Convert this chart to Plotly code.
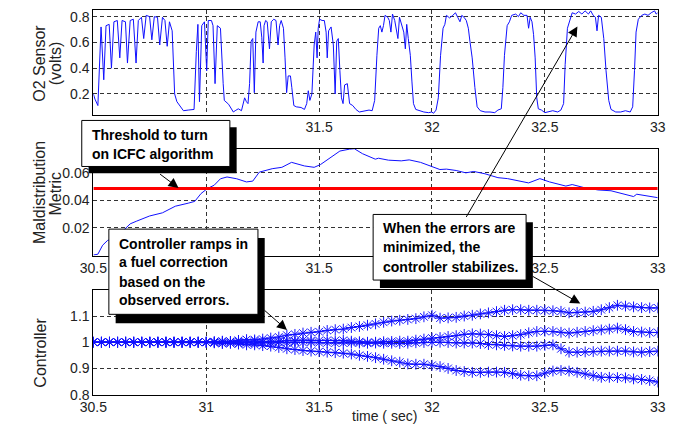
import plotly.graph_objects as go
import numpy as np

# ---------------- data ----------------
o2_t = [30.500, 30.507, 30.520, 30.527, 30.534, 30.546, 30.556, 30.570, 30.580, 30.591,
        30.606, 30.617, 30.627, 30.642, 30.651, 30.663, 30.677, 30.689, 30.699, 30.713,
        30.723, 30.734, 30.749, 30.759, 30.770, 30.784, 30.794, 30.806, 30.817, 30.827,
        30.837, 30.849, 30.860, 30.870, 30.885, 30.899, 30.920, 30.946, 30.956, 30.963,
        30.970, 30.980, 30.992, 31.002, 31.009, 31.023, 31.030, 31.039, 31.049, 31.063,
        31.075, 31.080, 31.099, 31.120,
        31.128, 31.142, 31.156, 31.170, 31.178, 31.185, 31.192, 31.199, 31.206, 31.213,
        31.220, 31.230, 31.239, 31.246, 31.252, 31.256, 31.263, 31.270, 31.280, 31.288,
        31.299, 31.309, 31.318, 31.325, 31.332, 31.342, 31.349, 31.356, 31.363, 31.373,
        31.379, 31.388, 31.399, 31.420, 31.435, 31.445, 31.452, 31.459, 31.468, 31.478,
        31.485, 31.491, 31.496, 31.502, 31.513, 31.523, 31.531, 31.536, 31.542, 31.553,
        31.563, 31.571, 31.578, 31.585, 31.592, 31.599, 31.606, 31.613, 31.625, 31.635,
        31.649, 31.663, 31.678, 31.699, 31.721, 31.735,
        31.746, 31.756, 31.764, 31.771, 31.778, 31.785, 31.792, 31.804, 31.811, 31.818,
        31.825, 31.835, 31.842, 31.849, 31.856, 31.867, 31.875, 31.882, 31.888, 31.895,
        31.904, 31.911, 31.918, 31.928, 31.942, 31.964, 31.985, 31.999, 32.007, 32.018,
        32.028, 32.038, 32.049, 32.057, 32.064, 32.078, 32.092, 32.104, 32.114, 32.124,
        32.132, 32.142, 32.152, 32.161, 32.168, 32.178, 32.190, 32.200, 32.214, 32.235,
        32.257, 32.278, 32.292, 32.307, 32.314, 32.321, 32.333, 32.343, 32.353,
        32.371, 32.383, 32.393, 32.407, 32.421, 32.428, 32.435, 32.443, 32.450, 32.457,
        32.464, 32.471, 32.485, 32.500, 32.514, 32.535, 32.557, 32.571, 32.583, 32.590,
        32.600, 32.611, 32.621, 32.636, 32.650, 32.664, 32.678, 32.693, 32.703, 32.714,
        32.724, 32.731, 32.738, 32.750, 32.761, 32.771, 32.783, 32.793, 32.814, 32.836,
        32.857, 32.878, 32.889, 32.897, 32.904, 32.914, 32.929, 32.943, 32.957, 32.971,
        32.986, 32.993, 33.000]
o2_v = [0.20, 0.16, 0.11, 0.48, 0.72, 0.31, 0.73, 0.74, 0.40, 0.76,
        0.77, 0.48, 0.77, 0.76, 0.44, 0.77, 0.78, 0.44, 0.77, 0.795,
        0.63, 0.81, 0.80, 0.62, 0.80, 0.795, 0.58, 0.795, 0.77, 0.57,
        0.76, 0.69, 0.20, 0.14, 0.10, 0.07, 0.075, 0.08, 0.53, 0.74,
        0.14, 0.73, 0.76, 0.38, 0.77, 0.77, 0.73, 0.28, 0.73, 0.71,
        0.28, 0.15, 0.12, 0.06,
        0.07, 0.085, 0.07, 0.17, 0.14, 0.125, 0.28, 0.61, 0.63, 0.21,
        0.68, 0.76, 0.76, 0.64, 0.44, 0.73, 0.77, 0.76, 0.55, 0.76,
        0.78, 0.77, 0.58, 0.73, 0.77, 0.71, 0.48, 0.21, 0.34, 0.34,
        0.25, 0.11, 0.10, 0.095, 0.08, 0.125, 0.225, 0.15, 0.20, 0.58,
        0.68, 0.48, 0.71, 0.78, 0.77, 0.77, 0.68, 0.48, 0.69, 0.72,
        0.58, 0.20, 0.61, 0.63, 0.38, 0.17, 0.125, 0.27, 0.28, 0.125,
        0.11, 0.08, 0.06, 0.07, 0.075, 0.07,
        0.15, 0.50, 0.71, 0.73, 0.68, 0.73, 0.81, 0.795, 0.77, 0.68,
        0.82, 0.77, 0.69, 0.63, 0.795, 0.73, 0.68, 0.55, 0.74, 0.63,
        0.50, 0.30, 0.125, 0.08, 0.07, 0.06, 0.055, 0.06, 0.05, 0.075,
        0.17, 0.50, 0.71, 0.74, 0.81, 0.79, 0.81, 0.83, 0.795, 0.76,
        0.81, 0.795, 0.77, 0.71, 0.61, 0.48, 0.25, 0.10, 0.07, 0.06,
        0.06, 0.055, 0.075, 0.085, 0.25, 0.50, 0.73, 0.76, 0.81,
        0.82, 0.80, 0.83, 0.81, 0.81, 0.71, 0.795, 0.76, 0.66, 0.48,
        0.17, 0.085, 0.075, 0.055, 0.06, 0.07, 0.06, 0.075, 0.125, 0.43,
        0.71, 0.77, 0.83, 0.82, 0.84, 0.82, 0.845, 0.82, 0.845, 0.81,
        0.795, 0.69, 0.81, 0.795, 0.63, 0.38, 0.15, 0.08, 0.06, 0.06,
        0.07, 0.06, 0.10, 0.38, 0.68, 0.78, 0.81, 0.82, 0.81, 0.83,
        0.845, 0.82, 0.83]

md_t = [30.500, 30.520, 30.541, 30.563, 30.600, 30.634, 30.663, 30.692, 30.749, 30.806,
        30.863, 30.920, 30.949, 30.977, 31.006, 31.035, 31.063, 31.092, 31.135, 31.178,
        31.206, 31.235, 31.263, 31.292, 31.335, 31.378, 31.435, 31.478, 31.506, 31.549,
        31.592, 31.635, 31.656, 31.692, 31.749, 31.763, 31.807, 31.864, 31.899, 31.949,
        31.999, 32.035, 32.064, 32.107, 32.150, 32.185, 32.235, 32.292, 32.335, 32.378,
        32.428, 32.478, 32.521, 32.593, 32.621, 32.671, 32.735, 32.793, 32.850, 32.893,
        32.907, 33.000]
md_v = [0.0004, 0.001, 0.0075, 0.011, 0.013, 0.018, 0.023, 0.025, 0.0287, 0.031,
        0.0358, 0.038, 0.0393, 0.045, 0.0487, 0.051, 0.0557, 0.057, 0.0557, 0.0534,
        0.054, 0.0605, 0.0617, 0.063, 0.064, 0.0676, 0.065, 0.064, 0.066, 0.0711,
        0.0758, 0.0772, 0.0775, 0.0739, 0.0699, 0.0706, 0.0692, 0.0687, 0.0694, 0.0676,
        0.0645, 0.0624, 0.0627, 0.0617, 0.060, 0.061, 0.0593, 0.0565, 0.0558, 0.0546,
        0.0527, 0.0558, 0.0534, 0.0504, 0.0515, 0.0494, 0.0476, 0.047, 0.0445, 0.0428,
        0.0445, 0.042]
threshold = 0.0487

ctrl_t = np.linspace(30.5, 33.0, 71)
ctrl_a = [1.0, 1.0, 1.0, 1.0, 1.0, 1.0, 1.0, 1.0, 1.0, 1.0, 1.0, 1.0, 1.0, 1.0, 1.0,
          1.002, 1.004, 1.003, 1.007, 1.01, 1.009, 1.012, 1.016, 1.02, 1.027,
          1.03, 1.035, 1.038, 1.04, 1.045, 1.048, 1.05, 1.056, 1.06, 1.065,
          1.07, 1.076, 1.081, 1.084, 1.087, 1.09, 1.097, 1.103, 1.092, 1.093,
          1.095, 1.1, 1.103, 1.108, 1.112, 1.117, 1.122, 1.124, 1.124, 1.122,
          1.122, 1.122, 1.12, 1.118, 1.112, 1.114, 1.115, 1.118, 1.124, 1.132,
          1.141, 1.138, 1.135, 1.132, 1.131, 1.131]
ctrl_b = [1.0, 1.0, 1.0, 1.0, 1.0, 1.0, 1.0, 1.0, 1.0, 1.0, 1.0, 1.0, 1.0, 1.0, 1.0,
          0.998, 1.003, 0.997, 1.002, 1.0, 1.005, 1.001, 1.004, 1.003, 1.006,
          1.005, 1.008, 1.006, 1.006, 1.007, 1.006, 1.007, 1.004, 1.002, 1.0,
          1.0, 1.002, 1.003, 1.004, 1.004, 1.008, 1.012, 1.016, 1.018, 1.022,
          1.025, 1.03, 1.032, 1.031, 1.029, 1.025, 1.022, 1.025, 1.029, 1.036,
          1.041, 1.042, 1.041, 1.038, 1.035, 1.038, 1.041, 1.044, 1.047, 1.05,
          1.054, 1.048, 1.041, 1.039, 1.037, 1.037]
ctrl_c = [1.0, 1.0, 1.0, 1.0, 1.0, 1.0, 1.0, 1.0, 1.0, 1.0, 1.0, 1.0, 1.0, 1.0, 1.0,
          1.001, 0.997, 1.002, 0.995, 0.998, 0.996, 0.999, 0.997, 1.0, 0.998,
          1.0, 0.999, 1.0, 0.998, 0.998, 0.997, 0.997, 0.998, 0.997, 0.996,
          0.997, 0.996, 0.996, 0.995, 0.996, 0.998, 0.999, 1.0, 1.0, 0.999,
          0.997, 0.997, 0.997, 0.995, 0.991, 0.99, 0.988, 0.986, 0.985, 0.985,
          0.985, 0.988, 0.99, 0.975, 0.962, 0.962, 0.963, 0.964, 0.966, 0.966,
          0.966, 0.966, 0.963, 0.962, 0.964, 0.966]
ctrl_d = [1.0, 1.0, 1.0, 1.0, 1.0, 1.0, 1.0, 1.0, 1.0, 1.0, 1.0, 1.0, 1.0, 1.0, 1.0,
          0.998, 0.995, 0.996, 0.993, 0.99, 0.99, 0.987, 0.985, 0.98, 0.975,
          0.972, 0.968, 0.966, 0.964, 0.962, 0.96, 0.958, 0.955, 0.95, 0.946,
          0.941, 0.935, 0.929, 0.924, 0.917, 0.916, 0.916, 0.912, 0.907, 0.9,
          0.892, 0.888, 0.885, 0.885, 0.886, 0.886, 0.885, 0.88, 0.874, 0.872,
          0.872, 0.882, 0.89, 0.892, 0.89, 0.885, 0.879, 0.872, 0.866, 0.866,
          0.865, 0.864, 0.86, 0.858, 0.854, 0.848]

x_ticks = [30.5, 31, 31.5, 32, 32.5, 33]
x_ticktext_top = ["", "", "31.5", "32", "32.5", "33"]          # 30.5 / 31 hidden by callout
x_ticktext_mid = ["30.5", "", "31.5", "", "32.5", "33"]        # 31 / 32 hidden by callouts
x_ticktext_bot = ["30.5", "31", "31.5", "32", "32.5", "33"]

# ---------------- figure ----------------
W, H = 688, 431
def PX(x): return x / W
def PY(y): return 1 - y / H

FONT = "Liberation Sans, Arial, sans-serif"
BLUE = "#1010ff"

fig = go.Figure()
fig.add_trace(go.Scatter(x=o2_t, y=o2_v, mode="lines", line=dict(color=BLUE, width=1),
                         xaxis="x", yaxis="y", hoverinfo="skip"))
fig.add_trace(go.Scatter(x=md_t, y=md_v, mode="lines", line=dict(color=BLUE, width=1),
                         xaxis="x2", yaxis="y2", hoverinfo="skip"))
fig.add_trace(go.Scatter(x=[30.5, 33], y=[threshold, threshold], mode="lines",
                         line=dict(color="#ff0000", width=3), xaxis="x2", yaxis="y2"))
for s in [ctrl_a, ctrl_b, ctrl_c, ctrl_d]:
    fig.add_trace(go.Scatter(x=ctrl_t, y=s, mode="lines+markers",
                             line=dict(color=BLUE, width=1),
                             marker=dict(symbol="asterisk-open", size=9,
                                         color=BLUE, line=dict(color="#3a3aff", width=1)),
                             xaxis="x3", yaxis="y3", hoverinfo="skip"))

xdom = [PX(82), PX(665)]
axis_common = dict(showgrid=True, gridcolor="#333333", griddash="4px,3px", gridwidth=1,
                   showline=True, linecolor="black", linewidth=1, mirror=True,
                   ticks="", zeroline=False,
                   tickfont=dict(family=FONT, size=14, color="#222222"))
xcommon = dict(axis_common, range=[30.5, 33], tickvals=x_ticks, domain=xdom)

fig.update_layout(
    width=W, height=H, autosize=False,
    margin=dict(l=0, r=0, t=0, b=0),
    paper_bgcolor="white", plot_bgcolor="white",
    showlegend=False,
    xaxis=dict(xcommon, anchor="y", ticktext=x_ticktext_top),
    xaxis2=dict(xcommon, anchor="y2", ticktext=x_ticktext_mid),
    xaxis3=dict(xcommon, anchor="y3", ticktext=x_ticktext_bot),
    yaxis=dict(axis_common, domain=[PY(116), PY(9)], range=[0.04, 0.853],
               tickvals=[0.2, 0.4, 0.6, 0.8], ticktext=["0.2", "0.4", "0.6", "0.8"], anchor="x"),
    yaxis2=dict(axis_common, domain=[PY(260), PY(151)], range=[0, 0.0774],
                tickvals=[0.02, 0.04, 0.06], ticktext=["0.02", "0.04", "0.06"], anchor="x2"),
    yaxis3=dict(axis_common, domain=[PY(402), PY(295)], range=[0.8, 1.2],
                tickvals=[0.8, 0.9, 1.0, 1.1], ticktext=["0.8", "0.9", "1", "1.1"], anchor="x3"),
)

# callout boxes with drop shadows
boxes = [
    ((70, 122, 223, 169), 7, 7),
    ((98, 233, 252, 320), 7, 9),
    ((371, 218, 529, 285), 7, 8),
]
shapes = []
for (x0, y0, x1, y1), dx, dy in boxes:
    shapes.append(dict(type="rect", xref="paper", yref="paper", layer="above",
                       x0=PX(x0 + dx), x1=PX(x1 + dx), y0=PY(y1 + dy), y1=PY(y0 + dy),
                       fillcolor="black", line=dict(width=0)))
    shapes.append(dict(type="rect", xref="paper", yref="paper", layer="above",
                       x0=PX(x0), x1=PX(x1), y0=PY(y1), y1=PY(y0),
                       fillcolor="white", line=dict(color="black", width=1)))
fig.update_layout(shapes=shapes)

annotations = []
callout_lines = [
    (79, [(136.7, "Threshold to turn"), (156, "on ICFC algorithm")]),
    (106, [(247.7, "Controller ramps in"), (266.7, "a fuel correction"),
           (286.7, "based on the"), (305.7, "observed errors.")]),
    (379, [(231.7, "When the errors are"), (251.7, "minimized, the"),
           (271.7, "controller stabilizes.")]),
]
for xl, lines in callout_lines:
    for yy, txt in lines:
        annotations.append(dict(xref="paper", yref="paper", x=PX(xl), y=PY(yy),
                                xanchor="left", yanchor="middle", showarrow=False,
                                text="<b>" + txt + "</b>",
                                font=dict(family=FONT, size=14, color="black")))

arrows = [((170, 191), (150, 176)),
          ((282, 336), (258, 315)),
          ((582, 26), (470, 218)),
          ((585, 309), (536, 281))]
for (hx, hy), (tx, ty) in arrows:
    annotations.append(dict(xref="paper", yref="paper", x=PX(hx), y=PY(hy),
                            ax=tx - hx, ay=ty - hy, axref="pixel", ayref="pixel",
                            text="", showarrow=True, arrowhead=2, arrowsize=2,
                            arrowwidth=1, arrowcolor="black", standoff=0))

# axis titles
titles = [
    (27, 64, "O2 Sensor"), (43, 64, "(volts)"),
    (27, 196, "Maldistribution"), (43, 197, "Metric"),
    (27, 359, "Controller"),
]
for xx, yy, txt in titles:
    annotations.append(dict(xref="paper", yref="paper", x=PX(xx), y=PY(yy),
                            xanchor="center", yanchor="middle", textangle=-90,
                            showarrow=False, text=txt,
                            font=dict(family=FONT, size=16, color="#222222")))
annotations.append(dict(xref="paper", yref="paper", x=PX(383), y=PY(424),
                        xanchor="center", yanchor="middle", showarrow=False,
                        text="time ( sec)", font=dict(family=FONT, size=14, color="#222222")))

fig.update_layout(annotations=annotations)
fig.write_html("out.html")
